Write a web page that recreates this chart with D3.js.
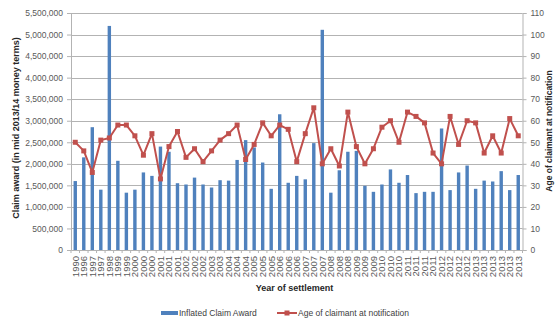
<!DOCTYPE html>
<html>
<head>
<meta charset="utf-8">
<script src="https://cdn.jsdelivr.net/npm/d3@7"></script>
<style>
  html, body { margin: 0; padding: 0; background: #ffffff; }
  svg { display: block; font-family: "Liberation Sans", Arial, sans-serif; }
</style>
</head>
<body>
<svg id="chart" width="555" height="322"></svg>
<script>
// Settlement year of each claim (one entry per settled claim)
const years = [
  "1990", "1996", "1997", "1997", "1998", "1999", "1999", "2000", "2000", "2000",
  "2001", "2001", "2001", "2002", "2002", "2002", "2003", "2003", "2004", "2004",
  "2004", "2005", "2005", "2005", "2006", "2006", "2006", "2007", "2007", "2007",
  "2008", "2008", "2008", "2009", "2009", "2009", "2010", "2010", "2010", "2011",
  "2011", "2011", "2011", "2012", "2012", "2012", "2012", "2013", "2013", "2013",
  "2013", "2013", "2013"
];

// Inflated claim award (mid 2013/14 money terms)
const claimAward = [
  1600000, 2150000, 2850000, 1400000, 5200000, 2070000, 1330000, 1400000, 1800000, 1720000,
  2400000, 2280000, 1550000, 1520000, 1680000, 1520000, 1450000, 1620000, 1610000, 2090000,
  2550000, 2380000, 2030000, 1420000, 3150000, 1560000, 1720000, 1640000, 2480000, 5110000,
  1330000, 1850000, 2280000, 2300000, 1490000, 1350000, 1520000, 1870000, 1560000, 1740000,
  1320000, 1350000, 1350000, 2820000, 1390000, 1800000, 1960000, 1420000, 1610000, 1590000,
  1830000, 1390000, 1740000
];

// Age of claimant at notification (years)
const ageAtNotification = [
  50, 46, 36, 51, 52, 58, 58, 53, 44, 54,
  33, 48, 55, 43, 47, 41, 46, 51, 54, 58,
  42, 49, 59, 53, 58, 56, 41, 54, 66, 40,
  47, 39, 64, 48, 40, 47, 57, 60, 50, 64,
  62, 59, 45, 40, 62, 49, 60, 59, 45, 53,
  45, 61, 53
];

const leftTicks = d3.range(0, 5500001, 500000);
const rightTicks = d3.range(0, 111, 10);

const svg = d3.select("#chart");
const plot = { left: 71, right: 522.5, top: 13, bottom: 250 };

const x = d3.scaleBand()
  .domain(d3.range(years.length))
  .range([plot.left, plot.right])
  .paddingInner(0.6)
  .paddingOuter(0.3);

const yLeft = d3.scaleLinear().domain([0, 5500000]).range([plot.bottom, plot.top]);
const yRight = d3.scaleLinear().domain([0, 110]).range([plot.bottom, plot.top]);

const gridColor = "#b3b3b3";
const tickColor = "#595959";
const fontFamily = "Liberation Sans, Arial, sans-serif";

// Horizontal gridlines
svg.append("g")
  .selectAll("line")
  .data(leftTicks.filter(d => d > 0))
  .join("line")
  .attr("x1", plot.left).attr("x2", plot.right)
  .attr("y1", d => Math.round(yLeft(d)) + 0.5)
  .attr("y2", d => Math.round(yLeft(d)) + 0.5)
  .attr("stroke", gridColor)
  .attr("stroke-width", 1);

// Left axis
const leftAxis = svg.append("g")
  .attr("transform", `translate(${plot.left},0)`)
  .call(d3.axisLeft(yLeft).tickValues(leftTicks).tickSize(4).tickPadding(4)
    .tickFormat(d3.format(",")));
leftAxis.select(".domain").attr("stroke", gridColor);
leftAxis.selectAll(".tick line").attr("stroke", gridColor);
leftAxis.selectAll("text").attr("fill", tickColor).attr("font-size", 8.5)
  .attr("font-family", fontFamily);

// Right axis
const rightAxis = svg.append("g")
  .attr("transform", `translate(${plot.right},0)`)
  .call(d3.axisRight(yRight).tickValues(rightTicks).tickSize(4).tickPadding(4));
rightAxis.select(".domain").attr("stroke", gridColor);
rightAxis.selectAll(".tick line").attr("stroke", gridColor);
rightAxis.selectAll("text").attr("fill", tickColor).attr("font-size", 8.5)
  .attr("font-family", fontFamily);

// Bars
svg.append("g")
  .selectAll("rect")
  .data(claimAward)
  .join("rect")
  .attr("x", (d, i) => x(i))
  .attr("width", x.bandwidth())
  .attr("y", d => yLeft(d))
  .attr("height", d => plot.bottom - yLeft(d))
  .attr("fill", "#4f81bd");

// Bottom axis with category labels
const bottomAxis = svg.append("g")
  .attr("transform", `translate(0,${plot.bottom})`)
  .call(d3.axisBottom(x).tickSize(0).tickFormat(i => years[i]));
bottomAxis.select(".domain").attr("stroke", gridColor);
bottomAxis.selectAll("text")
  .attr("fill", tickColor)
  .attr("font-size", 9.5)
  .attr("font-family", fontFamily)
  .attr("text-anchor", "end")
  .attr("dy", "0.35em")
  .attr("transform", "translate(0,6) rotate(-90)")
  .attr("x", 0).attr("y", 0);

// Category boundary tick marks
svg.append("g")
  .selectAll("line")
  .data(d3.range(years.length + 1))
  .join("line")
  .attr("x1", i => plot.left + i * x.step())
  .attr("x2", i => plot.left + i * x.step())
  .attr("y1", plot.bottom)
  .attr("y2", plot.bottom + 3)
  .attr("stroke", gridColor);

// Age line with square markers
const cx = i => x(i) + x.bandwidth() / 2;
const line = d3.line().x((d, i) => cx(i)).y(d => yRight(d));
svg.append("path")
  .datum(ageAtNotification)
  .attr("d", line)
  .attr("fill", "none")
  .attr("stroke", "#c0504d")
  .attr("stroke-width", 2)
  .attr("stroke-linejoin", "round");

svg.append("g")
  .selectAll("rect")
  .data(ageAtNotification)
  .join("rect")
  .attr("x", (d, i) => cx(i) - 2.5)
  .attr("y", d => yRight(d) - 2.5)
  .attr("width", 5)
  .attr("height", 5)
  .attr("fill", "#c0504d");

// Axis titles
svg.append("text")
  .attr("transform", "translate(16,128) rotate(-90)")
  .attr("text-anchor", "middle")
  .attr("dominant-baseline", "central")
  .attr("font-size", 9)
  .attr("font-weight", "bold")
  .attr("fill", "#262626")
  .text("Claim award (in mid 2013/14 money terms)");

svg.append("text")
  .attr("transform", "translate(549,131) rotate(-90)")
  .attr("text-anchor", "middle")
  .attr("dominant-baseline", "central")
  .attr("font-size", 8.5)
  .attr("font-weight", "bold")
  .attr("fill", "#262626")
  .text("Age of claimant at notification");

svg.append("text")
  .attr("x", 294.5)
  .attr("y", 291)
  .attr("text-anchor", "middle")
  .attr("font-size", 9)
  .attr("font-weight", "bold")
  .attr("fill", "#262626")
  .text("Year of settlement");

// Legend
const legend = svg.append("g").attr("font-size", 8.5).attr("fill", "#404040");
legend.append("rect")
  .attr("x", 161).attr("y", 311).attr("width", 17).attr("height", 4)
  .attr("fill", "#4f81bd");
legend.append("text")
  .attr("x", 179).attr("y", 313).attr("dominant-baseline", "central")
  .text("Inflated Claim Award");
legend.append("line")
  .attr("x1", 277).attr("x2", 297).attr("y1", 313).attr("y2", 313)
  .attr("stroke", "#c0504d").attr("stroke-width", 2);
legend.append("rect")
  .attr("x", 284.5).attr("y", 310.5).attr("width", 5).attr("height", 5)
  .attr("fill", "#c0504d");
legend.append("text")
  .attr("x", 298).attr("y", 313).attr("dominant-baseline", "central")
  .text("Age of claimant at notification");
</script>
</body>
</html>
